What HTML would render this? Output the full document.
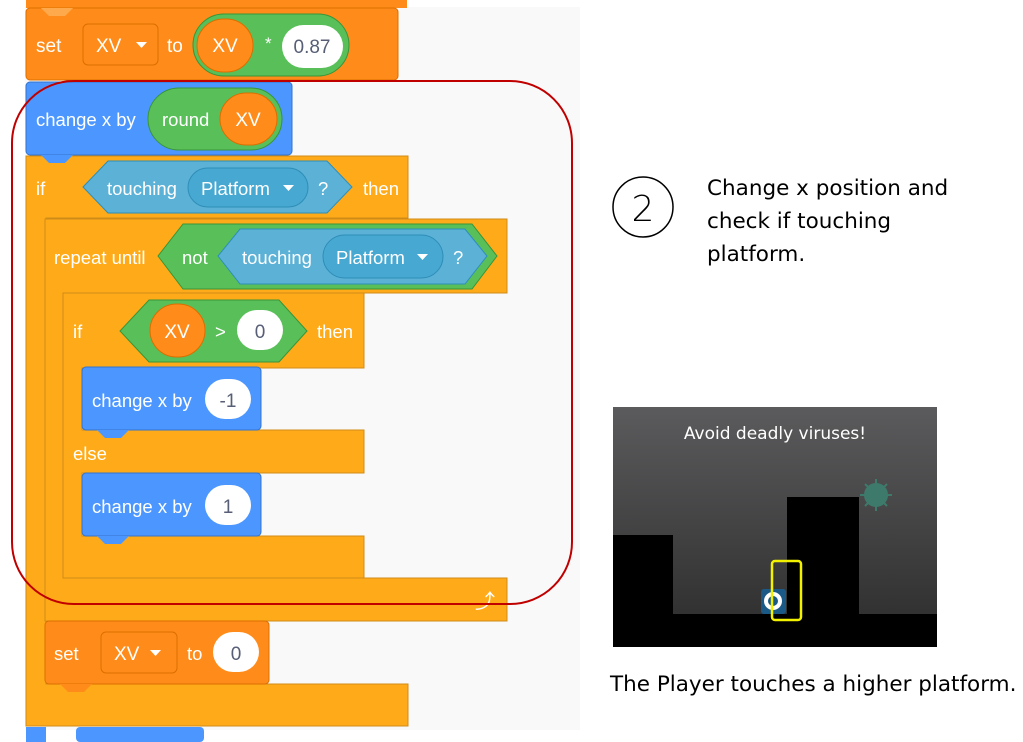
<!DOCTYPE html>
<html><head><meta charset="utf-8"><style>
html,body{margin:0;padding:0;background:#fff;width:1023px;height:742px;overflow:hidden}
svg text{font-family:"Liberation Sans",sans-serif}
</style></head><body>
<svg width="1023" height="742" viewBox="0 0 1023 742" xmlns="http://www.w3.org/2000/svg">
<rect x="25" y="7" width="555" height="723" fill="#f9f9f9"/>
<rect x="26" y="0" width="381" height="8" fill="#ff8c1a"/>
<g fill="#ffab19" stroke="#cf8b17" stroke-width="1">
<path d="M26 156 h382 v62 h-362 v466 h362 v42 h-382 z"/>
<path d="M45 219 h462 v74 h-443 v285 h443 v43 h-462 z"/>
<path d="M63 293 h301 v75 h-282 v62 h282 v43 h-282 v63 h282 v42 h-301 z"/>
</g>
<rect x="26" y="8" width="372" height="72" rx="4" fill="#ff8c1a" stroke="#db6e00"/>
<path d="M41 8 l8 8 h16 l8 -8z" fill="#ffa94d"/>
<text x="36" y="52" font-size="19" fill="#fff">set</text>
<rect x="83" y="24" width="75" height="41" rx="5" fill="#ff8c1a" stroke="#db6e00"/>
<text x="96" y="52" font-size="19" fill="#fff">XV</text>
<path d="M136 42 h11 l-5.5 6z" fill="#fff"/>
<text x="167" y="52" font-size="19" fill="#fff">to</text>
<rect x="193" y="14" width="156" height="62" rx="31" fill="#59c059" stroke="#389438"/>
<rect x="197" y="19" width="56" height="53" rx="26.5" fill="#ff8c1a" stroke="#db6e00"/>
<text x="225" y="52" font-size="19" fill="#fff" text-anchor="middle">XV</text>
<text x="265" y="49" font-size="17" fill="#fff">*</text>
<rect x="282" y="25" width="61" height="43" rx="21.5" fill="#fff"/>
<text x="312" y="53" font-size="19" fill="#575e75" text-anchor="middle">0.87</text>
<rect x="26" y="82" width="266" height="73" rx="4" fill="#4c97ff" stroke="#3373cc"/>
<path d="M41 155 l8 8 h16 l8 -8z" fill="#4c97ff"/>
<text x="36" y="126" font-size="18.5" fill="#fff">change x by</text>
<rect x="148" y="88" width="134" height="62" rx="31" fill="#59c059" stroke="#389438"/>
<text x="162" y="126" font-size="18.5" fill="#fff">round</text>
<rect x="220" y="93" width="57" height="52" rx="26" fill="#ff8c1a" stroke="#db6e00"/>
<text x="248" y="126" font-size="19" fill="#fff" text-anchor="middle">XV</text>
<text x="36" y="195" font-size="18.5" fill="#fff">if</text>
<path d="M83 187 L108 161 H327 L352 187 L327 213 H108 Z" fill="#5cb1d6" stroke="#2e8eb8"/>
<text x="107" y="195" font-size="18.5" fill="#fff">touching</text>
<rect x="188" y="168" width="120" height="39" rx="19.5" fill="#47a8d1" stroke="#2e8eb8"/>
<text x="201" y="195" font-size="18.5" fill="#fff">Platform</text>
<path d="M283 185 h11 l-5.5 6z" fill="#fff"/>
<text x="318" y="195" font-size="18.5" fill="#fff">?</text>
<text x="363" y="195" font-size="18.5" fill="#fff">then</text>
<text x="54" y="264" font-size="18.5" fill="#fff">repeat until</text>
<path d="M158 256 L183 224 H472 L497 256 L472 289 H183 Z" fill="#59c059" stroke="#389438"/>
<text x="182" y="264" font-size="18.5" fill="#fff">not</text>
<path d="M218 256 L240 229 H465 L487 256 L465 284 H240 Z" fill="#5cb1d6" stroke="#2e8eb8"/>
<text x="242" y="264" font-size="18.5" fill="#fff">touching</text>
<rect x="323" y="235" width="120" height="43" rx="21.5" fill="#47a8d1" stroke="#2e8eb8"/>
<text x="336" y="264" font-size="18.5" fill="#fff">Platform</text>
<path d="M417 254 h11 l-5.5 6z" fill="#fff"/>
<text x="453" y="264" font-size="18.5" fill="#fff">?</text>
<text x="73" y="338" font-size="18.5" fill="#fff">if</text>
<path d="M120 331 L149 300 H279 L307 331 L279 362 H149 Z" fill="#59c059" stroke="#389438"/>
<rect x="150" y="304" width="55" height="53" rx="26.5" fill="#ff8c1a" stroke="#db6e00"/>
<text x="177" y="338" font-size="19" fill="#fff" text-anchor="middle">XV</text>
<text x="215" y="338" font-size="18.5" fill="#fff">&gt;</text>
<rect x="237" y="310" width="46" height="40" rx="20" fill="#fff"/>
<text x="260" y="338" font-size="19" fill="#575e75" text-anchor="middle">0</text>
<text x="317" y="338" font-size="18.5" fill="#fff">then</text>
<rect x="82" y="367" width="179" height="63" rx="4" fill="#4c97ff" stroke="#3373cc"/>
<path d="M97 430 l8 8 h16 l8 -8z" fill="#4c97ff"/>
<text x="92" y="407" font-size="18.5" fill="#fff">change x by</text>
<rect x="205" y="379" width="46" height="40" rx="20" fill="#fff"/>
<text x="228" y="407" font-size="19" fill="#575e75" text-anchor="middle">-1</text>
<text x="73" y="460" font-size="18.5" fill="#fff">else</text>
<rect x="82" y="473" width="179" height="63" rx="4" fill="#4c97ff" stroke="#3373cc"/>
<path d="M97 536 l8 8 h16 l8 -8z" fill="#4c97ff"/>
<text x="92" y="513" font-size="18.5" fill="#fff">change x by</text>
<rect x="205" y="485" width="46" height="40" rx="20" fill="#fff"/>
<text x="228" y="513" font-size="19" fill="#575e75" text-anchor="middle">1</text>
<text x="475" y="608" font-size="20" fill="#fff">⤴</text>
<rect x="45" y="621" width="224" height="63" rx="4" fill="#ff8c1a" stroke="#db6e00"/>
<path d="M60 684 l8 8 h16 l8 -8z" fill="#ff8c1a"/>
<text x="54" y="660" font-size="18.5" fill="#fff">set</text>
<rect x="101" y="632" width="76" height="41" rx="5" fill="#ff8c1a" stroke="#db6e00"/>
<text x="114" y="660" font-size="19" fill="#fff">XV</text>
<path d="M150 650 h11 l-5.5 6z" fill="#fff"/>
<text x="187" y="660" font-size="18.5" fill="#fff">to</text>
<rect x="213" y="632" width="46" height="40" rx="20" fill="#fff"/>
<text x="236" y="660" font-size="19" fill="#575e75" text-anchor="middle">0</text>
<rect x="26" y="727" width="20" height="15" fill="#4c97ff"/>
<rect x="76" y="727" width="128" height="15" rx="4" fill="#4c97ff"/>
<rect x="12" y="81" width="560" height="523" rx="62" fill="none" stroke="#c00000" stroke-width="2"/>
<circle cx="643" cy="207" r="30" fill="none" stroke="#000" stroke-width="1.5"/>
<text x="643" y="221" font-size="36" text-anchor="middle" style="font-family:'DejaVu Sans',sans-serif;font-weight:200" fill="#000">2</text>
<g fill="#000">
<text x="707" y="195" font-size="21.5" style="font-family:'DejaVu Sans',sans-serif">Change x position and</text>
<text x="707" y="228" font-size="21.5" style="font-family:'DejaVu Sans',sans-serif">check if touching</text>
<text x="707" y="261" font-size="21.5" style="font-family:'DejaVu Sans',sans-serif">platform.</text>
</g>
<defs><linearGradient id="g" x1="0" y1="0" x2="0" y2="1"><stop offset="0" stop-color="#5b5b5d"/><stop offset="1" stop-color="#2b2b2b"/></linearGradient></defs>
<rect x="613" y="407" width="324" height="240" fill="url(#g)"/>
<text x="775" y="439" font-size="17" fill="#fff" text-anchor="middle" style="font-family:'DejaVu Sans',sans-serif">Avoid deadly viruses!</text>
<rect x="613" y="535" width="60" height="112" fill="#000"/>
<rect x="613" y="614" width="324" height="33" fill="#000"/>
<rect x="787" y="497" width="72" height="150" fill="#000"/>
<g fill="#3d7a6b" stroke="#3d7a6b" stroke-width="2">
<circle cx="876" cy="495" r="11"/>
<line x1="876" y1="479" x2="876" y2="511"/><line x1="860" y1="495" x2="892" y2="495"/>
<line x1="865" y1="484" x2="887" y2="506"/><line x1="887" y1="484" x2="865" y2="506"/>
</g>
<rect x="761" y="589" width="25" height="25" rx="3" fill="#1b5a86"/>
<circle cx="773" cy="601" r="7" fill="none" stroke="#fff" stroke-width="4"/>
<rect x="772" y="561" width="29" height="59" rx="3" fill="none" stroke="#f2f200" stroke-width="2.5"/>
<text x="610" y="691" font-size="21.5" fill="#000" style="font-family:'DejaVu Sans',sans-serif">The Player touches a higher platform.</text>
</svg>
</body></html>
